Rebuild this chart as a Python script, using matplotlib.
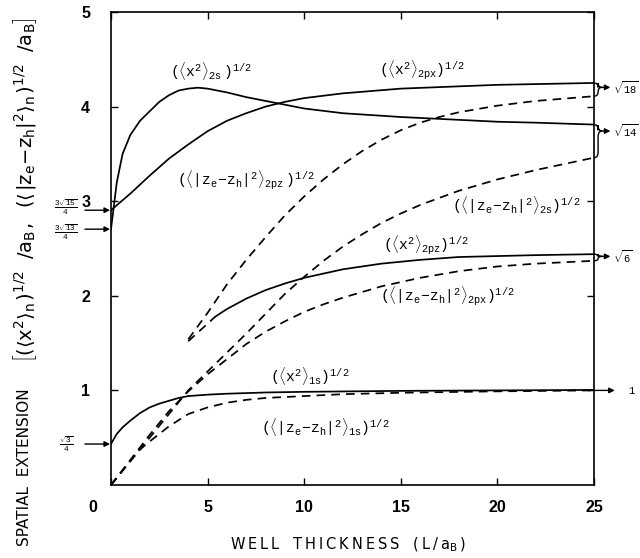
import numpy as np
import matplotlib
matplotlib.use("Agg")
import matplotlib.pyplot as plt
from matplotlib.path import Path
from matplotlib.patches import PathPatch
from matplotlib.transforms import blended_transform_factory, ScaledTranslation

plt.rcParams['mathtext.fontset'] = 'custom'
plt.rcParams['mathtext.rm'] = 'Liberation Mono'
plt.rcParams['mathtext.it'] = 'Liberation Mono'
plt.rcParams['mathtext.sf'] = 'DejaVu Sans'
plt.rcParams['mathtext.default'] = 'rm'

# ---------------- data ----------------
L_x1s = [0, 0.1, 0.3, 0.6, 1, 1.5, 2, 2.5, 3, 3.5, 4, 5, 6, 8, 10, 15, 20, 25]
x1s = [0.433, 0.47, 0.54, 0.61, 0.68, 0.76, 0.82, 0.86, 0.89, 0.92, 0.94, 0.955,
       0.965, 0.978, 0.985, 0.995, 1.0, 1.005]

L_z1s = [0, 1, 1.5, 2, 3, 4, 5, 6, 7, 8, 10, 12, 15, 20, 25]
z1s = [0, 0.256, 0.375, 0.46, 0.62, 0.75, 0.82, 0.87, 0.90, 0.92, 0.94, 0.96,
       0.975, 0.99, 1.0]

L_x2s = [0, 0.3, 0.6, 1, 1.5, 2, 2.5, 3, 3.5, 4, 4.5, 5, 6, 7, 8, 9, 10, 12, 15,
         18, 20, 22, 25]
x2s = [2.704, 3.2, 3.5, 3.7, 3.85, 3.95, 4.05, 4.12, 4.17, 4.19, 4.2, 4.19, 4.15,
       4.1, 4.06, 4.02, 3.98, 3.93, 3.89, 3.86, 3.84, 3.83, 3.81]

L_x2px = [0, 1, 2, 3, 4, 5, 6, 7, 8, 9, 10, 12, 15, 20, 25]
x2px = [2.905, 3.08, 3.27, 3.45, 3.6, 3.74, 3.85, 3.93, 4.0, 4.05, 4.09, 4.14,
        4.19, 4.23, 4.25]

L_x2pz = [5.4, 6, 7, 8, 9, 10, 12, 14, 16, 18, 20, 22, 25]
x2pz = [1.78, 1.86, 1.97, 2.06, 2.13, 2.19, 2.28, 2.34, 2.38, 2.41, 2.42, 2.43, 2.44]

L_x2pz_ext = [4.0, 5.4]
x2pz_ext = [1.52, 1.78]

L_z2pz = [4.0, 5, 6, 7, 8, 9, 10, 11, 12, 13, 14, 15, 16, 17, 18, 20, 22, 25]
z2pz = [1.54, 1.82, 2.12, 2.38, 2.62, 2.85, 3.05, 3.23, 3.39, 3.53, 3.65, 3.75,
        3.83, 3.89, 3.94, 4.01, 4.06, 4.11]

L_z2s = [0, 1, 2, 3, 4, 5, 6, 7, 8, 9, 10, 11, 12, 13, 14, 15, 16, 18, 20, 22, 25]
z2s = [0, 0.25, 0.5, 0.75, 1.0, 1.2, 1.4, 1.6, 1.81, 2.02, 2.2, 2.37, 2.52, 2.65,
       2.77, 2.87, 2.96, 3.11, 3.23, 3.33, 3.46]

L_z2px = [0, 1, 2, 3, 4, 5, 6, 7, 8, 9, 10, 11, 12, 14, 16, 18, 20, 22, 25]
z2px = [0, 0.265, 0.53, 0.78, 0.99, 1.17, 1.33, 1.49, 1.62, 1.73, 1.83, 1.91, 1.98,
        2.1, 2.19, 2.26, 2.31, 2.34, 2.37]

xticks = [0, 5, 10, 15, 20, 25]
xticklabels = ["0", "5", "10", "15", "20", "25"]
yticks = [1, 2, 3, 4, 5]
yticklabels = ["1", "2", "3", "4", "5"]

# limits at L -> infinity (right) and L -> 0 (left)
right_vals = [np.sqrt(18), np.sqrt(14), np.sqrt(6), 1.0]
right_labels = [r"$\sqrt{18}$", r"$\sqrt{14}$", r"$\sqrt{6}$", r"$1$"]
left_vals = [3 * np.sqrt(15) / 4, 3 * np.sqrt(13) / 4, np.sqrt(3) / 4]
left_labels = [r"$\frac{3\sqrt{15}}{4}$", r"$\frac{3\sqrt{13}}{4}$", r"$\frac{\sqrt{3}}{4}$"]

# ---------------- figure ----------------
fig = plt.figure(figsize=(6.4, 5.58), dpi=100)
ax = fig.add_axes([111 / 640, 1 - 485 / 558, 483 / 640, 473 / 558])
ax.set_xlim(0, 25)
ax.set_ylim(0, 5)

lw = 1.25
dash = (0, (5, 3.5))
ax.plot(L_x1s, x1s, color='black', lw=lw)
ax.plot(L_z1s, z1s, color='black', lw=lw, ls=dash)
ax.plot(L_x2s, x2s, color='black', lw=lw)
ax.plot(L_x2px, x2px, color='black', lw=lw)
ax.plot(L_x2pz, x2pz, color='black', lw=lw)
ax.plot(L_x2pz_ext, x2pz_ext, color='black', lw=lw, ls=dash)
ax.plot(L_z2pz, z2pz, color='black', lw=lw, ls=dash)
ax.plot(L_z2s, z2s, color='black', lw=lw, ls=dash)
ax.plot(L_z2px, z2px, color='black', lw=lw, ls=dash)

for s in ax.spines.values():
    s.set_linewidth(1.2)

ax.set_xticks(xticks)
ax.set_xticklabels(xticklabels)
ax.set_yticks(yticks)
ax.set_yticklabels(yticklabels)
ax.tick_params(direction='in', length=5, width=1, top=True, right=True,
               labelsize=11.5)
ax.tick_params(axis='x', pad=11)
ax.tick_params(axis='y', pad=15)
for lab in ax.get_xticklabels() + ax.get_yticklabels():
    lab.set_family('Liberation Sans')
    lab.set_weight('bold')
# shift the shared corner "0" to the left
zero = ax.get_xticklabels()[0]
zero.set_transform(zero.get_transform() + ScaledTranslation(-18 / 100, 0, fig.dpi_scale_trans))

# axis labels
ts = "\u2009"
xl = ts.join("WELL") + "   " + ts.join("THICKNESS") + "   (" + ts + "L" + ts + "/" + ts + r"$\mathsf{a_B}$" + ts + ")"
ax.set_xlabel(xl, family='DejaVu Sans', fontsize=10.5)
ax.xaxis.set_label_coords(0.49, -0.107)

fig.text(25 / 640, 1 - 467 / 558, "SPATIAL  EXTENSION", family='DejaVu Sans',
         fontsize=11, rotation=90, ha='center', va='center')
fig.text(25 / 640, 1 - 190 / 558,
         r"$\mathsf{\left[(\langle x^2\rangle_n\,)^{1/2}\ \ \ /a_B\,,\ \ \ "
         r"(\langle\,|z_e\!-\!z_h|^2\rangle_n\,)^{1/2}\ \ \ /a_B\right]}$",
         fontsize=14, rotation=90, ha='center', va='center')

# curve annotations
afs = 10.5
ann = [
    (5.2, 4.38, r"$(\langle x^2\rangle_{2s}\ )^{1/2}$"),
    (16.1, 4.38, r"$(\langle x^2\rangle_{2px})^{1/2}$"),
    (7.0, 3.22, r"$(\langle|z_e\!-\!z_h|^2\rangle_{2pz}\ )^{1/2}$"),
    (21.0, 2.96, r"$(\langle|z_e\!-\!z_h|^2\rangle_{2s})^{1/2}$"),
    (16.3, 2.53, r"$(\langle x^2\rangle_{2pz})^{1/2}$"),
    (17.4, 1.99, r"$(\langle|z_e\!-\!z_h|^2\rangle_{2px})^{1/2}$"),
    (10.3, 1.15, r"$(\langle x^2\rangle_{1s})^{1/2}$"),
    (11.1, 0.61, r"$(\langle|z_e\!-\!z_h|^2\rangle_{1s})^{1/2}$"),
]
for xx, yy, t in ann:
    ax.text(xx, yy, t, fontsize=afs, ha='center', va='center')

trans = blended_transform_factory(ax.transAxes, ax.transData)

# right-hand braces + arrows
def brace(yt, yb, ym, x0=1.0, w=0.017):
    r = min(0.06, (yt - yb) / 3)
    xm = x0 + w / 2
    ym = min(max(ym, yb + r), yt - r) if yt - yb > 2 * r else (yt + yb) / 2
    verts = [(x0, yt), (xm, yt), (xm, yt - r), (xm, ym + r), (xm, ym), (x0 + w, ym),
             (xm, ym), (xm, ym - r), (xm, yb + r), (xm, yb), (x0, yb)]
    codes = [Path.MOVETO, Path.CURVE3, Path.CURVE3, Path.LINETO, Path.CURVE3, Path.CURVE3,
             Path.CURVE3, Path.CURVE3, Path.LINETO, Path.CURVE3, Path.CURVE3]
    ax.add_patch(PathPatch(Path(verts, codes), fill=False, lw=1.0, color='black',
                           transform=trans, clip_on=False))
    return ym

pairs = [(x2px[-1], z2pz[-1]), (x2s[-1], z2s[-1]), (x2pz[-1], z2px[-1])]
for (ya, yb_), v, lab in zip(pairs, right_vals[:3], right_labels[:3]):
    ym = brace(max(ya, yb_), min(ya, yb_), v)
    ax.annotate("", xy=(1.034, ym), xytext=(1.017, ym), xycoords=trans, textcoords=trans,
                arrowprops=dict(arrowstyle='-|>', color='black', lw=1.0,
                                mutation_scale=8, shrinkA=0, shrinkB=0),
                annotation_clip=False)
    ax.text(1.039, ym, lab, transform=trans, fontsize=7.5, ha='left', va='center')

ax.annotate("", xy=(1.043, right_vals[3]), xytext=(1.0, right_vals[3]), xycoords=trans,
            textcoords=trans,
            arrowprops=dict(arrowstyle='-|>', color='black', lw=1.0, mutation_scale=8,
                            shrinkA=0, shrinkB=0), annotation_clip=False)
ax.text(1.07, right_vals[3], right_labels[3], transform=trans, fontsize=7.5,
        ha='left', va='center')

# left-hand limits
nudges_px = [3, -3, 0]
for v, lab, nd in zip(left_vals, left_labels, nudges_px):
    ax.annotate("", xy=(-0.002, v), xytext=(-0.054, v), xycoords=trans, textcoords=trans,
                arrowprops=dict(arrowstyle='-|>', color='black', lw=1.0,
                                mutation_scale=8, shrinkA=0, shrinkB=0),
                annotation_clip=False)
    ax.text(-0.093, v, lab, fontsize=8, ha='center', va='center',
            transform=trans + ScaledTranslation(0, nd / 100, fig.dpi_scale_trans))

fig.savefig("out.png", dpi=100)
